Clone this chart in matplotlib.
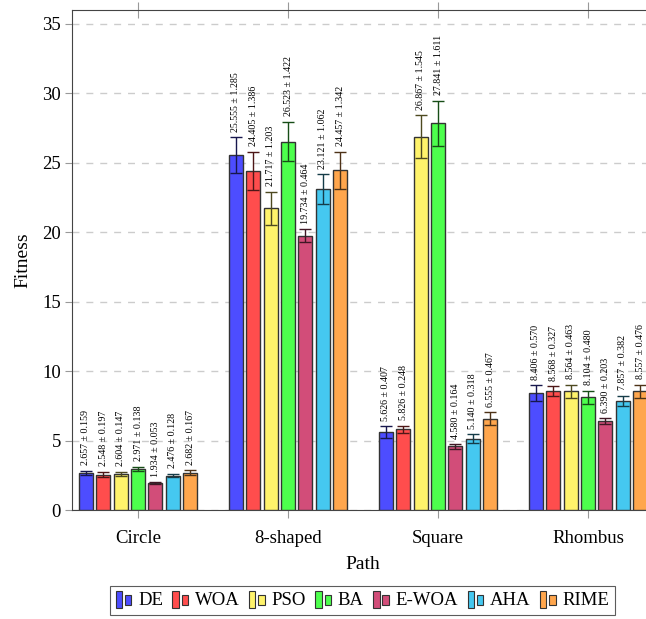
import numpy as np
import matplotlib.pyplot as plt
from matplotlib.patches import Rectangle
from matplotlib.legend_handler import HandlerBase
from matplotlib.colors import to_rgb

plt.rcParams['font.family'] = ['Liberation Serif', 'DejaVu Serif']

paths = ["Circle", "8-shaped", "Square", "Rhombus"]
algos = ["DE", "WOA", "PSO", "BA", "E-WOA", "AHA", "RIME"]
# mean fitness per algorithm, one value per path
means = {
    "DE":    [2.657, 25.555, 5.626, 8.406],
    "WOA":   [2.548, 24.405, 5.826, 8.568],
    "PSO":   [2.604, 21.717, 26.867, 8.564],
    "BA":    [2.971, 26.523, 27.841, 8.104],
    "E-WOA": [1.934, 19.734, 4.580, 6.390],
    "AHA":   [2.476, 23.121, 5.140, 7.857],
    "RIME":  [2.682, 24.457, 6.555, 8.557],
}
stds = {
    "DE":    [0.159, 1.285, 0.407, 0.570],
    "WOA":   [0.197, 1.386, 0.248, 0.327],
    "PSO":   [0.147, 1.203, 1.545, 0.463],
    "BA":    [0.138, 1.422, 1.611, 0.480],
    "E-WOA": [0.053, 0.464, 0.164, 0.203],
    "AHA":   [0.128, 1.062, 0.318, 0.382],
    "RIME":  [0.167, 1.342, 0.467, 0.476],
}
colors = ["#4d4dff", "#ff4d4d", "#fff36b", "#4dff4d", "#d24d79", "#45c8f0", "#ffa64d"]


class TwoBars(HandlerBase):
    # pgfplots style ybar legend image: a tall and a short bar
    def create_artists(self, legend, orig, xd, yd, w, h, fontsize, trans):
        fc = orig.get_facecolor()
        bw = w * 0.38
        r1 = Rectangle((xd, yd - h * 0.25), bw, h * 1.3, facecolor=fc,
                       edgecolor="#333333", lw=0.8, transform=trans)
        r2 = Rectangle((xd + w * 0.55, yd), bw, h * 0.75, facecolor=fc,
                       edgecolor="#333333", lw=0.8, transform=trans)
        return [r1, r2]


fig = plt.figure(figsize=(6.46, 6.19), dpi=100)
ax = fig.add_axes([0.1115, 0.176, 0.9009, 0.808])

x = np.arange(len(paths))
step = 0.116
width = 0.093
handles = []
for i, a in enumerate(algos):
    pos = x + (i - 3) * step
    c = colors[i]
    dark = tuple(v * 0.3 for v in to_rgb(c))
    b = ax.bar(pos, means[a], width, color=c, edgecolor="#333333", linewidth=1, zorder=3, label=a)
    ax.errorbar(pos, means[a], yerr=stds[a], fmt="none", ecolor=dark, elinewidth=1,
                capsize=4, capthick=1, zorder=4)
    handles.append(b.patches[0])
    for p, m, s in zip(pos, means[a], stds[a]):
        ax.annotate(f"{m:.3f} ± {s:.3f}", (p, m + s), xytext=(0, 4), textcoords="offset points",
                    rotation=90, ha="center", va="bottom", fontsize=7.2, zorder=5)

ax.set_xlim(-0.44, 3.44)
ax.set_ylim(0, 36)
ax.set_yticks(np.arange(0, 36, 5))
ax.set_xticks(x)
ax.set_xticklabels(paths, fontsize=13.5)
ax.tick_params(axis="y", labelsize=13.5, direction="out", length=5, pad=3, color="#999999")
ax.tick_params(axis="x", direction="inout", length=12, color="#999999", top=True, pad=8)
ax.yaxis.grid(True, linestyle=(0, (5, 5)), color="#cccccc", linewidth=1, zorder=0)
ax.set_axisbelow(True)
for s in ax.spines.values():
    s.set_color("#444444")
ax.set_ylabel("Fitness", fontsize=14, labelpad=8)
ax.set_xlabel("Path", fontsize=14, labelpad=7)

leg = fig.legend(handles=handles, labels=algos, handler_map={h: TwoBars() for h in handles},
                 loc="upper center", bbox_to_anchor=(0.561, 0.068), ncol=7, fontsize=13.5,
                 frameon=True, fancybox=False, edgecolor="#333333", handlelength=0.9,
                 handletextpad=0.3, columnspacing=0.5, borderpad=0.3)
leg.get_frame().set_linewidth(0.8)

fig.savefig("out.png", dpi=100)
